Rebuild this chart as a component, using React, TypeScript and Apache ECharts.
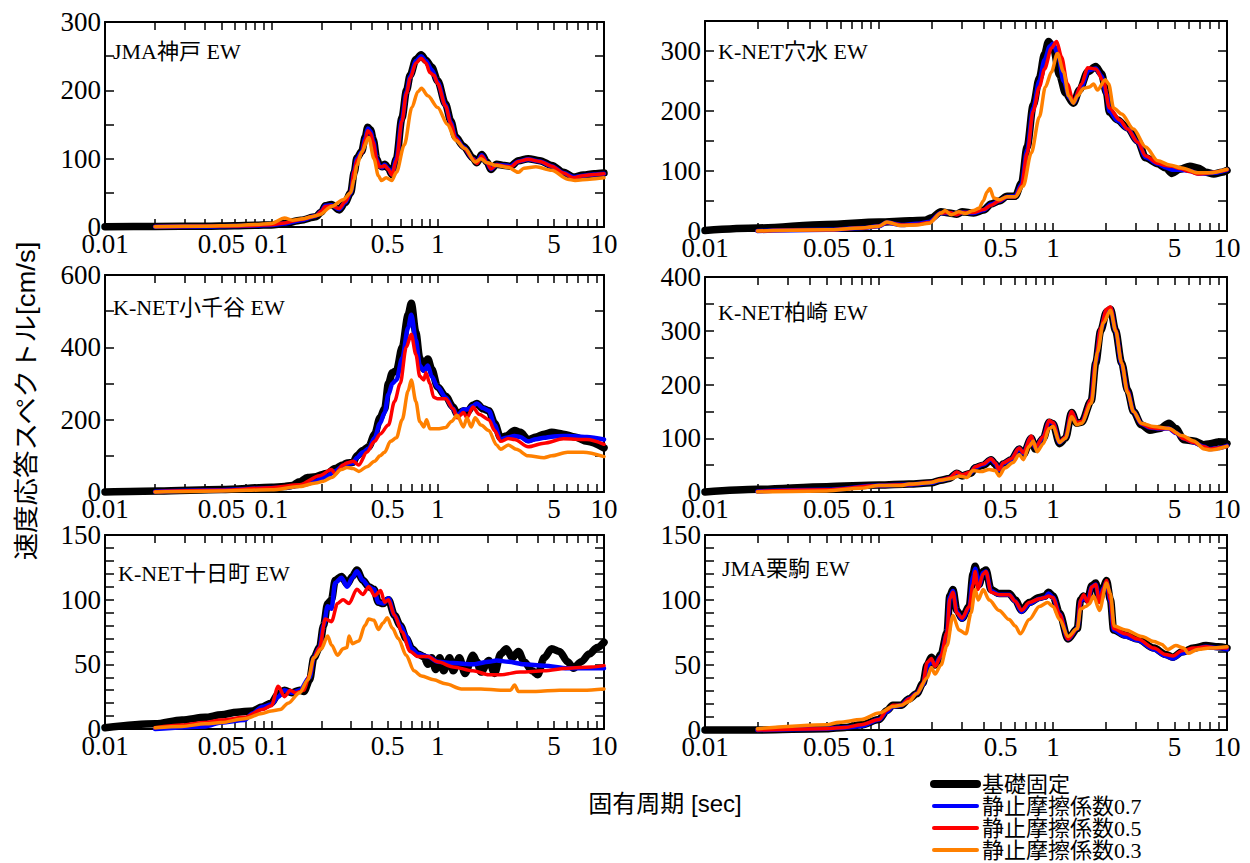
import React, { useEffect, useRef } from 'react';
import * as echarts from 'echarts';

type Pt = [number, number];

// ---------------- data ----------------
const seriesNames = ['基礎固定', '静止摩擦係数0.7', '静止摩擦係数0.5', '静止摩擦係数0.3'];
const panelTitles = ['JMA神戸 EW', 'K-NET穴水 EW', 'K-NET小千谷 EW', 'K-NET柏崎 EW', 'K-NET十日町 EW', 'JMA栗駒 EW'];
const panelYMax = [300, 350, 600, 400, 150, 150];
const panelYTickStep = [50, 50, 100, 50, 10, 10];
const panelYLabelStep = [100, 100, 200, 100, 50, 50];
const periodTicks = [0.01, 0.02, 0.03, 0.04, 0.05, 0.06, 0.07, 0.08, 0.09, 0.1, 0.2, 0.3, 0.4, 0.5, 0.6, 0.7, 0.8, 0.9, 1, 2, 3, 4, 5, 6, 7, 8, 9, 10];
const periodLabels = [0.01, 0.05, 0.1, 0.5, 1, 5, 10];
const xAxisTitle = '固有周期 [sec]';
const yAxisTitle = '速度応答スペクトル[cm/s]';

// JMA神戸 EW
const kobeFixed: Pt[] = [[0.01,0.5],[0.02,0.8],[0.04,1.2],[0.06,2],[0.08,2.5],[0.1,3],[0.12,5],[0.15,10],[0.185,15],[0.2,22],[0.211,31],[0.23,33],[0.256,25],[0.278,36],[0.3,50],[0.315,80],[0.327,101],[0.35,111],[0.367,132],[0.38,146],[0.395,142],[0.41,128],[0.43,100],[0.447,90],[0.465,88],[0.48,92],[0.506,86],[0.53,77],[0.565,100],[0.61,160],[0.65,200],[0.683,222],[0.74,245],[0.795,252],[0.85,244],[0.92,234],[1.0,214],[1.115,180],[1.2,155],[1.28,132],[1.43,118],[1.63,101],[1.72,94],[1.84,106],[1.98,95],[2.09,84],[2.26,92],[2.53,90],[2.74,89],[3.06,97],[3.5,100],[4.12,97],[4.85,90],[5.7,80],[6.55,73],[7.5,76],[8.7,78],[10,79]];
const kobeMu07: Pt[] = [[0.02,0.5],[0.04,0.9],[0.06,1.5],[0.08,2.2],[0.1,3],[0.12,5],[0.15,10],[0.185,16],[0.2,23],[0.211,31],[0.23,32],[0.256,26],[0.278,36],[0.3,50],[0.315,82],[0.327,100],[0.35,110],[0.367,130],[0.38,144],[0.395,140],[0.41,126],[0.43,99],[0.447,89],[0.465,87],[0.48,91],[0.506,85],[0.53,77],[0.565,100],[0.61,158],[0.65,198],[0.683,220],[0.74,243],[0.795,250],[0.85,243],[0.92,230],[1.0,212],[1.115,178],[1.2,153],[1.28,131],[1.43,117],[1.63,100],[1.72,94],[1.84,105],[1.98,94],[2.09,85],[2.26,91],[2.53,90],[2.74,89],[3.06,96],[3.5,99],[4.12,96],[4.85,89],[5.7,79],[6.55,73],[7.5,75],[8.7,77],[10,78]];
const kobeMu05: Pt[] = [[0.02,0.6],[0.04,1],[0.06,1.6],[0.08,2.3],[0.1,3.2],[0.12,6],[0.15,11],[0.185,16],[0.2,23],[0.211,30],[0.23,31],[0.256,27],[0.278,37],[0.3,51],[0.315,82],[0.327,98],[0.35,108],[0.367,128],[0.38,141],[0.395,137],[0.41,124],[0.43,98],[0.447,88],[0.465,88],[0.48,90],[0.506,84],[0.53,76],[0.565,98],[0.61,155],[0.65,196],[0.683,218],[0.74,240],[0.795,247],[0.85,240],[0.897,226],[0.95,222],[1.0,210],[1.115,177],[1.2,152],[1.28,130],[1.43,116],[1.63,100],[1.72,93],[1.84,104],[1.98,94],[2.09,85],[2.26,91],[2.53,89],[2.74,88],[3.06,96],[3.5,99],[4.12,96],[4.85,89],[5.7,79],[6.55,72],[7.5,75],[8.7,77],[10,78]];
const kobeMu03: Pt[] = [[0.02,0.5],[0.04,1.2],[0.06,2.2],[0.08,3.5],[0.1,5],[0.12,13],[0.134,10],[0.155,12],[0.175,15],[0.195,18],[0.23,30],[0.27,40],[0.3,50],[0.315,70],[0.327,90],[0.35,110],[0.385,131],[0.414,100],[0.44,75],[0.46,68],[0.49,72],[0.53,68],[0.565,80],[0.63,120],[0.7,175],[0.76,198],[0.8,203],[0.873,192],[1.0,175],[1.146,150],[1.28,127],[1.46,115],[1.68,95],[1.82,100],[1.98,94],[2.26,90],[2.66,87],[3.06,80],[3.3,86],[3.9,88],[4.85,83],[6.04,70],[6.7,68],[8.2,70],[10,72]];

// K-NET穴水 EW
const anamizuFixed: Pt[] = [[0.01,1],[0.02,5],[0.05,11],[0.1,15],[0.15,17],[0.184,18],[0.2,22],[0.227,32],[0.253,30],[0.28,28],[0.3,32],[0.35,30],[0.4,35],[0.44,45],[0.49,50],[0.545,58],[0.607,58],[0.66,80],[0.71,140],[0.77,210],[0.835,255],[0.894,295],[0.943,316],[1.005,305],[1.09,260],[1.18,230],[1.31,213],[1.42,235],[1.58,265],[1.76,274],[1.9,262],[2.03,230],[2.11,198],[2.35,185],[2.68,172],[3.07,150],[3.41,122],[4.0,112],[4.45,105],[4.82,96],[5.36,103],[6.12,108],[6.81,105],[7.57,98],[8.4,95],[9.35,98],[10,101]];
const anamizuMu07: Pt[] = [[0.02,0],[0.05,2],[0.08,5],[0.1,8],[0.111,14],[0.134,10],[0.165,12],[0.194,15],[0.227,30],[0.253,30],[0.28,28],[0.3,31],[0.35,30],[0.4,35],[0.44,44],[0.49,50],[0.545,57],[0.607,58],[0.66,78],[0.71,135],[0.77,205],[0.835,250],[0.894,285],[0.96,308],[1.0,312],[1.07,295],[1.15,250],[1.25,222],[1.31,214],[1.45,240],[1.6,268],[1.76,271],[1.9,258],[2.03,228],[2.11,200],[2.35,184],[2.68,170],[3.07,148],[3.41,123],[4.0,112],[4.45,106],[4.82,102],[5.36,102],[6.12,100],[6.81,96],[7.57,96],[8.4,97],[10,102]];
const anamizuMu05: Pt[] = [[0.02,0],[0.05,2],[0.08,5],[0.1,8],[0.111,14],[0.134,10],[0.165,11],[0.194,14],[0.227,30],[0.253,31],[0.28,27],[0.3,31],[0.35,31],[0.4,36],[0.44,43],[0.49,50],[0.545,57],[0.607,57],[0.66,76],[0.71,130],[0.77,200],[0.835,240],[0.894,270],[0.98,305],[1.05,316],[1.12,290],[1.21,245],[1.31,215],[1.46,245],[1.58,272],[1.76,270],[1.95,250],[2.11,205],[2.42,185],[2.68,170],[3.07,148],[3.41,125],[4.0,113],[4.45,109],[4.82,108],[5.36,104],[6.12,99],[6.8,95],[7.57,96],[8.4,98],[10,102]];
const anamizuMu03: Pt[] = [[0.02,0],[0.05,2],[0.079,5],[0.1,8],[0.111,15],[0.134,9],[0.165,10],[0.194,13],[0.227,30],[0.24,34],[0.26,27],[0.288,32],[0.313,29],[0.347,34],[0.376,38],[0.397,50],[0.418,65],[0.434,71],[0.457,55],[0.49,52],[0.545,57],[0.607,57],[0.675,75],[0.75,130],[0.835,190],[0.904,240],[0.98,265],[1.06,296],[1.15,265],[1.23,225],[1.31,213],[1.38,225],[1.5,238],[1.62,240],[1.71,245],[1.8,235],[2.0,252],[2.09,245],[2.23,205],[2.48,195],[2.9,170],[3.41,140],[4.0,117],[4.69,110],[5.5,105],[6.8,97],[7.97,97],[10,103]];

// K-NET小千谷 EW
const ojiyaFixed: Pt[] = [[0.01,0],[0.021,3],[0.05,7],[0.1,13],[0.12,15],[0.133,18],[0.148,28],[0.165,40],[0.185,42],[0.2,48],[0.218,52],[0.242,65],[0.27,75],[0.285,80],[0.31,82],[0.327,100],[0.355,115],[0.385,125],[0.418,160],[0.45,205],[0.48,230],[0.506,300],[0.534,330],[0.565,335],[0.612,400],[0.665,490],[0.694,522],[0.74,440],[0.78,370],[0.826,340],[0.873,368],[0.92,340],[1.0,290],[1.115,265],[1.24,235],[1.31,215],[1.43,225],[1.5,220],[1.63,240],[1.72,245],[1.87,230],[2.03,225],[2.2,190],[2.39,150],[2.59,155],[2.9,170],[3.14,165],[3.5,145],[3.9,152],[4.36,160],[4.85,165],[5.7,160],[6.7,152],[7.9,140],[10,122]];
const ojiyaMu07: Pt[] = [[0.02,1],[0.05,5],[0.1,11],[0.12,12],[0.148,17],[0.165,22],[0.185,30],[0.2,38],[0.218,45],[0.242,58],[0.27,72],[0.285,78],[0.31,80],[0.327,95],[0.355,110],[0.385,120],[0.418,150],[0.45,190],[0.48,220],[0.506,270],[0.534,300],[0.565,310],[0.612,370],[0.665,455],[0.694,490],[0.74,420],[0.78,350],[0.826,335],[0.873,350],[0.92,320],[1.0,290],[1.115,262],[1.24,230],[1.31,210],[1.43,228],[1.5,228],[1.63,238],[1.72,245],[1.87,232],[2.03,225],[2.2,185],[2.39,145],[2.59,150],[2.9,155],[3.14,152],[3.5,140],[3.9,146],[4.36,150],[4.85,153],[5.7,155],[6.7,154],[7.9,152],[10,145]];
const ojiyaMu05: Pt[] = [[0.02,1],[0.05,5],[0.1,12],[0.148,20],[0.195,45],[0.23,62],[0.242,50],[0.27,75],[0.285,80],[0.31,85],[0.336,75],[0.375,110],[0.418,140],[0.45,160],[0.506,185],[0.55,250],[0.596,300],[0.647,400],[0.694,436],[0.74,380],[0.78,320],[0.826,310],[0.85,330],[0.897,300],[0.947,262],[1.0,258],[1.115,258],[1.24,230],[1.31,205],[1.43,220],[1.5,205],[1.63,235],[1.77,215],[2.03,200],[2.2,170],[2.39,140],[2.66,148],[2.9,145],[3.5,125],[4.36,135],[5.7,147],[7.9,145],[10,132]];
const ojiyaMu03: Pt[] = [[0.02,0],[0.05,3],[0.1,6],[0.148,15],[0.185,25],[0.206,30],[0.23,40],[0.264,62],[0.285,68],[0.31,65],[0.336,57],[0.375,70],[0.418,85],[0.45,100],[0.48,110],[0.52,140],[0.565,150],[0.612,200],[0.665,280],[0.694,310],[0.74,250],[0.78,195],[0.826,180],[0.858,200],[0.897,175],[1.0,175],[1.115,178],[1.21,195],[1.31,212],[1.43,180],[1.5,205],[1.59,180],[1.68,205],[1.82,185],[2.03,170],[2.26,130],[2.39,118],[2.66,130],[2.97,118],[3.5,100],[4.36,95],[4.85,100],[6.04,110],[7.5,110],[10,98]];

// K-NET柏崎 EW
const kashiwazakiFixed: Pt[] = [[0.01,0],[0.02,5],[0.05,10],[0.1,13],[0.149,15],[0.2,17],[0.227,22],[0.253,25],[0.28,35],[0.3,30],[0.338,35],[0.357,45],[0.397,50],[0.441,60],[0.465,52],[0.49,40],[0.517,52],[0.575,60],[0.64,80],[0.675,70],[0.75,100],[0.79,80],[0.88,100],[0.95,130],[1.0,127],[1.09,90],[1.18,100],[1.28,148],[1.37,128],[1.46,130],[1.66,170],[1.76,240],[1.88,300],[2.03,335],[2.14,340],[2.29,300],[2.48,240],[2.68,190],[2.9,150],[3.22,125],[3.6,115],[4.1,118],[4.64,128],[5.08,118],[5.65,97],[6.44,95],[7.35,88],[7.98,90],[8.9,93],[10,90]];
const kashiwazakiMu07: Pt[] = [[0.02,1],[0.05,4],[0.1,12],[0.149,14],[0.2,17],[0.227,22],[0.253,25],[0.28,36],[0.3,31],[0.338,36],[0.357,46],[0.397,51],[0.441,61],[0.465,53],[0.49,41],[0.517,53],[0.575,61],[0.64,81],[0.675,72],[0.75,102],[0.79,82],[0.88,102],[0.95,131],[1.0,128],[1.09,92],[1.18,101],[1.28,148],[1.37,128],[1.46,130],[1.66,170],[1.76,242],[1.88,302],[2.03,337],[2.14,342],[2.29,300],[2.48,238],[2.68,188],[2.9,150],[3.22,127],[3.6,120],[4.1,118],[4.64,118],[5.08,110],[5.65,100],[6.44,92],[7.35,84],[7.98,80],[8.9,82],[10,86]];
const kashiwazakiMu05: Pt[] = [[0.02,1],[0.05,4],[0.1,12],[0.149,14],[0.2,18],[0.227,23],[0.253,26],[0.28,37],[0.3,32],[0.338,37],[0.357,47],[0.397,52],[0.441,62],[0.465,54],[0.49,42],[0.517,54],[0.575,62],[0.64,82],[0.675,73],[0.75,104],[0.79,83],[0.88,103],[0.95,133],[1.0,129],[1.09,93],[1.18,102],[1.28,150],[1.37,129],[1.46,131],[1.66,172],[1.76,244],[1.88,305],[2.03,340],[2.14,344],[2.29,302],[2.48,240],[2.68,188],[2.9,150],[3.22,127],[3.6,120],[4.1,118],[4.64,118],[5.08,110],[5.65,99],[6.44,92],[7.35,84],[7.98,80],[8.9,82],[10,85]];
const kashiwazakiMu03: Pt[] = [[0.02,0],[0.05,2],[0.079,7],[0.1,12],[0.134,12],[0.149,15],[0.194,17],[0.227,22],[0.26,25],[0.288,30],[0.32,27],[0.347,40],[0.386,38],[0.43,42],[0.465,40],[0.49,30],[0.53,45],[0.59,55],[0.64,70],[0.675,60],[0.73,85],[0.77,95],[0.81,75],[0.88,90],[0.95,118],[1.0,122],[1.09,92],[1.18,100],[1.28,140],[1.37,125],[1.46,128],[1.66,165],[1.8,260],[1.95,315],[2.14,338],[2.29,300],[2.48,240],[2.68,185],[2.9,150],[3.22,128],[3.8,122],[4.64,118],[5.5,105],[6.44,95],[7.4,80],[7.98,78],[10,85]];

// K-NET十日町 EW
const tokamachiFixed: Pt[] = [[0.01,1],[0.02,4],[0.029,7],[0.04,9],[0.05,11],[0.062,13],[0.077,14],[0.088,17],[0.1,20],[0.11,27],[0.12,30],[0.133,28],[0.148,30],[0.157,29],[0.17,38],[0.18,55],[0.195,63],[0.206,80],[0.218,97],[0.23,100],[0.242,115],[0.264,118],[0.286,112],[0.307,118],[0.327,123],[0.355,115],[0.385,110],[0.414,108],[0.44,98],[0.47,97],[0.506,100],[0.55,88],[0.596,80],[0.647,70],[0.7,62],[0.76,58],[0.826,56],[0.873,50],[0.92,55],[0.973,46],[1.03,55],[1.085,45],[1.18,55],[1.24,45],[1.35,55],[1.46,43],[1.63,57],[1.72,52],[1.82,44],[2.03,53],[2.2,43],[2.39,58],[2.59,62],[2.81,55],[3.06,60],[3.31,52],[3.7,45],[4.0,42],[4.36,55],[4.85,62],[5.4,60],[6.04,52],[6.55,47],[7.3,52],[8.15,58],[9.1,63],[10,67]];
const tokamachiMu07: Pt[] = [[0.02,0],[0.04,2],[0.05,5],[0.069,7],[0.077,12],[0.088,17],[0.1,19],[0.11,25],[0.12,30],[0.133,28],[0.148,30],[0.17,40],[0.18,55],[0.195,63],[0.206,80],[0.218,95],[0.23,93],[0.242,113],[0.264,117],[0.286,110],[0.307,117],[0.327,122],[0.355,115],[0.385,110],[0.414,108],[0.44,98],[0.47,97],[0.506,101],[0.55,88],[0.596,80],[0.647,72],[0.7,62],[0.76,58],[0.873,56],[1.0,52],[1.24,51],[1.63,50],[2.03,52],[2.26,53],[2.66,52],[3.31,50],[4.36,49],[6.04,47],[7.5,47],[10,47]];
const tokamachiMu05: Pt[] = [[0.02,1],[0.029,3],[0.04,5],[0.05,7],[0.069,9],[0.088,15],[0.1,18],[0.11,33],[0.12,25],[0.13,30],[0.14,28],[0.157,30],[0.17,42],[0.18,55],[0.195,63],[0.211,85],[0.23,83],[0.25,97],[0.27,100],[0.293,97],[0.327,108],[0.355,104],[0.385,110],[0.418,103],[0.454,107],[0.48,98],[0.506,100],[0.55,88],[0.61,75],[0.683,60],[0.76,56],[0.873,56],[1.0,52],[1.24,48],[1.63,45],[2.03,42],[2.39,42],[3.14,44],[4.36,45],[6.04,47],[8.4,48],[10,49]];
const tokamachiMu03: Pt[] = [[0.02,1],[0.029,2],[0.04,4],[0.05,5],[0.069,8],[0.088,12],[0.1,14],[0.113,15],[0.126,20],[0.148,28],[0.166,38],[0.18,55],[0.2,62],[0.218,72],[0.23,65],[0.25,57],[0.27,62],[0.285,63],[0.293,72],[0.307,66],[0.336,68],[0.365,80],[0.385,85],[0.414,84],[0.44,77],[0.47,82],[0.498,86],[0.534,78],[0.58,70],[0.647,57],[0.72,45],[0.8,41],[0.947,38],[1.115,35],[1.39,31],[1.82,31],[2.39,30],[2.74,30],[2.9,34],[3.06,29],[3.9,29],[5.4,30],[7.5,30],[10,31]];

// JMA栗駒 EW
const kurikomaFixed: Pt[] = [[0.01,0],[0.02,0],[0.05,1],[0.064,2],[0.079,4],[0.1,8],[0.111,15],[0.12,19],[0.134,19],[0.149,24],[0.165,28],[0.179,36],[0.189,50],[0.2,56],[0.21,50],[0.227,58],[0.246,75],[0.255,103],[0.266,108],[0.28,92],[0.3,86],[0.33,95],[0.347,120],[0.357,126],[0.376,112],[0.397,122],[0.412,123],[0.44,108],[0.49,105],[0.56,105],[0.607,100],[0.66,92],[0.73,98],[0.835,102],[0.9,103],[0.943,106],[1.0,103],[1.09,90],[1.22,70],[1.38,78],[1.44,100],[1.5,103],[1.58,100],[1.67,111],[1.76,113],[1.85,100],[1.95,110],[2.03,115],[2.14,100],[2.23,77],[2.61,73],[3.07,70],[3.8,63],[4.45,58],[4.89,56],[5.5,60],[6.44,63],[7.57,65],[8.9,64],[10,63]];
const kurikomaMu07: Pt[] = [[0.02,0],[0.05,1],[0.064,2],[0.079,3],[0.1,8],[0.111,14],[0.12,18],[0.134,19],[0.149,24],[0.165,28],[0.179,35],[0.189,49],[0.2,53],[0.21,50],[0.227,57],[0.246,74],[0.255,102],[0.266,107],[0.28,91],[0.3,85],[0.33,94],[0.347,118],[0.357,124],[0.376,111],[0.397,121],[0.412,122],[0.44,107],[0.49,104],[0.56,104],[0.607,99],[0.66,91],[0.73,97],[0.835,101],[0.9,102],[0.943,105],[1.0,102],[1.09,89],[1.22,70],[1.38,78],[1.44,99],[1.5,102],[1.58,99],[1.67,110],[1.76,112],[1.85,100],[1.95,109],[2.03,114],[2.14,99],[2.23,77],[2.61,72],[3.07,69],[3.8,62],[4.45,57],[4.89,55],[5.5,59],[6.44,62],[7.57,64],[8.9,63],[10,62]];
const kurikomaMu05: Pt[] = [[0.02,0],[0.05,1],[0.064,2],[0.079,4],[0.1,8],[0.111,15],[0.12,19],[0.134,19],[0.149,24],[0.165,28],[0.179,36],[0.189,52],[0.2,55],[0.21,49],[0.227,57],[0.246,75],[0.255,101],[0.266,106],[0.28,90],[0.3,86],[0.33,95],[0.347,112],[0.357,122],[0.37,108],[0.397,120],[0.412,122],[0.44,106],[0.49,104],[0.56,104],[0.607,99],[0.66,92],[0.73,98],[0.835,101],[0.9,102],[0.943,103],[1.0,102],[1.09,89],[1.22,70],[1.38,78],[1.44,100],[1.5,104],[1.58,98],[1.67,110],[1.76,112],[1.85,98],[1.95,109],[2.03,115],[2.14,100],[2.23,78],[2.61,74],[3.07,70],[3.8,63],[4.45,58],[4.89,57],[5.5,61],[6.44,63],[7.57,64],[8.9,63],[10,63]];
const kurikomaMu03: Pt[] = [[0.02,1],[0.05,4],[0.059,6],[0.079,8],[0.1,13],[0.12,18],[0.134,19],[0.149,22],[0.165,28],[0.189,40],[0.2,48],[0.21,43],[0.227,50],[0.246,65],[0.266,88],[0.288,77],[0.316,74],[0.338,90],[0.357,108],[0.372,100],[0.397,108],[0.43,100],[0.49,92],[0.56,85],[0.607,80],[0.65,74],[0.73,85],[0.835,95],[0.93,98],[1.0,95],[1.09,85],[1.22,72],[1.38,78],[1.44,93],[1.54,95],[1.62,97],[1.71,103],[1.85,92],[2.03,113],[2.14,105],[2.25,80],[2.61,77],[3.24,72],[3.8,68],[4.2,66],[4.57,62],[5.08,65],[5.65,63],[5.96,59],[6.8,62],[7.98,63],[10,64]];

const panelSeries: Pt[][][] = [
  [kobeFixed, kobeMu07, kobeMu05, kobeMu03],
  [anamizuFixed, anamizuMu07, anamizuMu05, anamizuMu03],
  [ojiyaFixed, ojiyaMu07, ojiyaMu05, ojiyaMu03],
  [kashiwazakiFixed, kashiwazakiMu07, kashiwazakiMu05, kashiwazakiMu03],
  [tokamachiFixed, tokamachiMu07, tokamachiMu05, tokamachiMu03],
  [kurikomaFixed, kurikomaMu07, kurikomaMu05, kurikomaMu03],
];

// ---------------- layout & style ----------------
const gridBoxes = [
  { left: 105, top: 22, width: 499, height: 205 },
  { left: 705, top: 21, width: 522, height: 210 },
  { left: 105, top: 275, width: 499, height: 217 },
  { left: 705, top: 277, width: 522, height: 215 },
  { left: 105, top: 535, width: 499, height: 194 },
  { left: 705, top: 535, width: 522, height: 195 },
];
const titlePositions = [[113, 51], [718, 51], [113, 307], [718, 312], [118, 573], [722, 568]];
const seriesColors = ['#000000', '#0000ff', '#ff0000', '#ff8000'];
const seriesWidths = [7.5, 4.5, 3.5, 3.5];
const legendWidths = [8, 4, 4, 4];
const SERIF = "'Liberation Serif', 'Noto Sans CJK JP', serif";
const TICK_SERIF = "'Liberation Serif', serif";
const SANS = "'Liberation Sans', 'Noto Sans CJK JP', sans-serif";
const TICK_FONT = 27;

function fmtPeriod(v: number): string {
  return String(+Math.pow(10, v).toPrecision(3));
}

function buildOption(): any {
  const tickLogs = periodTicks.map((p) => Math.log10(p));
  const labelLogs = periodLabels.map((p) => Math.log10(p));
  const grid: any[] = [];
  const xAxis: any[] = [];
  const yAxis: any[] = [];
  const series: any[] = [];
  const axisLine = { show: true, onZero: false, lineStyle: { color: '#000', width: 2 } };
  const tick = (len: number) => ({ show: true, inside: true, length: len, lineStyle: { color: '#000', width: 1.5 } });
  const labelText = { fontSize: TICK_FONT, fontFamily: TICK_SERIF, fontWeight: 'normal', color: '#000' };

  gridBoxes.forEach((g, i) => {
    grid.push({ ...g, containLabel: false, show: false });
    xAxis.push({ gridIndex: i, type: 'log', logBase: 10, min: 0.01, max: 10, show: false, position: 'bottom', axisLine: { onZero: false } });
    xAxis.push({
      gridIndex: i, type: 'value', min: -2, max: 1, position: 'bottom', axisLine,
      axisTick: { ...tick(8), customValues: tickLogs },
      axisLabel: { show: true, customValues: labelLogs, formatter: fmtPeriod, margin: 3, ...labelText },
      splitLine: { show: false },
    });
    xAxis.push({
      gridIndex: i, type: 'value', min: -2, max: 1, position: 'top', axisLine,
      axisTick: { ...tick(8), customValues: tickLogs },
      axisLabel: { show: false }, splitLine: { show: false },
    });
    const step = panelYLabelStep[i];
    yAxis.push({
      gridIndex: i, type: 'value', min: 0, max: panelYMax[i], interval: panelYTickStep[i], position: 'left', axisLine,
      axisTick: tick(9),
      axisLabel: { show: true, margin: 4, ...labelText, formatter: (v: number) => (v % step === 0 ? String(v) : '') },
      splitLine: { show: false },
    });
    yAxis.push({
      gridIndex: i, type: 'value', min: 0, max: panelYMax[i], interval: panelYTickStep[i], position: 'right', axisLine,
      axisTick: tick(9), axisLabel: { show: false }, splitLine: { show: false },
    });
    panelSeries[i].forEach((data, s) => {
      series.push({
        type: 'line', name: seriesNames[s], xAxisIndex: i * 3, yAxisIndex: i * 2, data,
        symbol: 'none', showSymbol: false, smooth: 0.3, smoothMonotone: 'x', clip: false,
        lineStyle: { color: seriesColors[s], width: seriesWidths[s], cap: 'round', join: 'round' },
        itemStyle: { color: seriesColors[s] },
        z: 2 + s,
      });
    });
  });

  const graphic: any[] = panelTitles.map((t, i) => ({
    type: 'text', x: titlePositions[i][0], y: titlePositions[i][1], z: 10,
    style: { text: t, fontSize: 22, fontFamily: SERIF, fill: '#000', align: 'left', verticalAlign: 'middle' },
  }));
  graphic.push({
    type: 'text', x: 26, y: 401, rotation: Math.PI / 2, scaleX: 1.1,
    style: { text: yAxisTitle, fontSize: 25, fontFamily: SANS, fill: '#000', align: 'center', verticalAlign: 'middle' },
  });
  graphic.push({
    type: 'text', x: 665, y: 803,
    style: { text: xAxisTitle, fontSize: 24, fontFamily: SANS, fill: '#000', align: 'center', verticalAlign: 'middle' },
  });

  return {
    animation: false,
    backgroundColor: '#ffffff',
    grid, xAxis, yAxis, series, graphic,
    legend: {
      orient: 'vertical', left: 930, top: 773, padding: 0, itemGap: 0,
      itemWidth: 43, itemHeight: 22, selectedMode: false,
      itemStyle: { opacity: 0 },
      textStyle: { fontSize: 22, fontFamily: SERIF, color: '#000', lineHeight: 22 },
      data: seriesNames.map((n, s) => ({ name: n, lineStyle: { color: seriesColors[s], width: legendWidths[s], cap: 'round' } })),
    },
  };
}

export default function App() {
  const ref = useRef<HTMLDivElement>(null);
  useEffect(() => {
    if (!ref.current) return;
    const chart = echarts.init(ref.current, undefined, { renderer: 'svg' });
    chart.setOption(buildOption());
    return () => chart.dispose();
  }, []);
  return <div ref={ref} style={{ position: 'absolute', left: 0, top: 0, width: 1250, height: 863, background: '#fff' }} />;
}
